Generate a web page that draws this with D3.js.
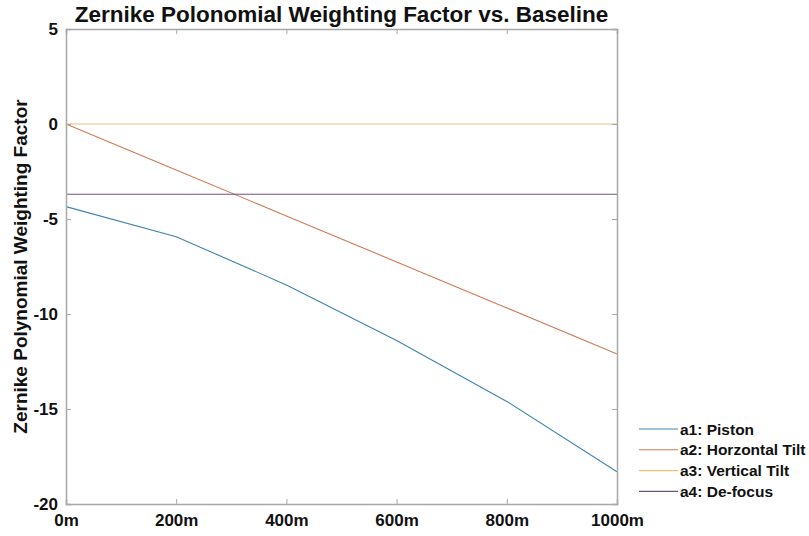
<!DOCTYPE html>
<html>
<head>
<meta charset="utf-8">
<script src="https://cdn.jsdelivr.net/npm/d3@7"></script>
<style>
  body { margin: 0; background: #fff; }
  text { font-family: "Liberation Sans", Arial, sans-serif; font-weight: bold; fill: #111; }
</style>
</head>
<body>
<svg></svg>
<script>
// baseline distance in metres
let baselines = [0, 200, 400, 600, 800, 1000]
let piston = [-4.35, -5.93, -8.47, -11.4, -14.6, -18.3]
let hTilt = [0, -2.42, -4.84, -7.26, -9.68, -12.1]
let vTilt = [0, 0, 0, 0, 0, 0]
let defocus = [-3.7, -3.7, -3.7, -3.7, -3.7, -3.7]

let seriesNames = ['a1: Piston', 'a2: Horzontal Tilt', 'a3: Vertical Tilt', 'a4: De-focus']
let seriesColors = ['#3f83b0', '#d07a55', '#e9c27a', '#6e5283']
let yTicks = [5, 0, -5, -10, -15, -20]
let xTicks = [0, 200, 400, 600, 800, 1000]

let width = 809
let height = 536
let plotLeft = 66, plotRight = 617, plotTop = 29, plotBottom = 504

let svg = d3.select('svg')
svg.attr('width', width).attr('height', height)

let xScale = d3.scaleLinear().domain([0, 1000]).range([plotLeft, plotRight])
let yScale = d3.scaleLinear().domain([-20, 5]).range([plotBottom, plotTop])

// white box
svg.append('rect')
    .attr('x', plotLeft).attr('y', plotTop)
    .attr('width', plotRight - plotLeft).attr('height', plotBottom - plotTop)
    .attr('fill', '#fff')

let allSeries = [piston, hTilt, vTilt, defocus]

let line = d3.line()
    .x((d, i) => xScale(baselines[i]))
    .y(d => yScale(d))

allSeries.forEach((values, k) => {
    svg.append('path')
        .datum(values)
        .attr('d', line)
        .attr('fill', 'none')
        .attr('stroke', seriesColors[k])
        .attr('stroke-width', 1.1)
})

// axes, ticks pointing inward like matlab
let xAxis = d3.axisBottom(xScale).tickValues(xTicks).tickSize(-5).tickPadding(10)
    .tickFormat(d => d + 'm')
let yAxis = d3.axisLeft(yScale).tickValues(yTicks).tickSize(-5).tickPadding(8)
    .tickFormat(d => String(d))

let gx = svg.append('g')
    .attr('transform', 'translate(0,' + plotBottom + ')')
    .call(xAxis)
let gy = svg.append('g')
    .attr('transform', 'translate(' + plotLeft + ',0)')
    .call(yAxis)

let gxTop = svg.append('g')
    .attr('transform', 'translate(0,' + plotTop + ')')
    .call(d3.axisTop(xScale).tickValues(xTicks).tickSize(-5).tickFormat(''))
let gyRight = svg.append('g')
    .attr('transform', 'translate(' + plotRight + ',0)')
    .call(d3.axisRight(yScale).tickValues(yTicks).tickSize(-5).tickFormat(''))

;[gx, gy, gxTop, gyRight].forEach(g => {
    g.select('.domain').attr('stroke', '#a8a8a8').attr('stroke-width', 1.5)
    g.selectAll('.tick line').attr('stroke', '#a8a8a8').attr('stroke-width', 1)
    g.selectAll('.tick text')
        .attr('font-family', '"Liberation Sans", Arial, sans-serif')
        .attr('font-weight', 'bold')
        .attr('font-size', 17)
        .attr('fill', '#111')
})

// title
svg.append('text')
    .attr('x', (plotLeft + plotRight) / 2)
    .attr('y', 22)
    .attr('text-anchor', 'middle')
    .attr('font-size', 22.5)
    .text('Zernike Polonomial Weighting Factor vs. Baseline')

// y label
svg.append('text')
    .attr('transform', 'translate(27,' + (plotTop + plotBottom) / 2 + ') rotate(-90)')
    .attr('text-anchor', 'middle')
    .attr('font-size', 19)
    .text('Zernike Polynomial Weighting Factor')

// legend
let legend = svg.append('g')
seriesNames.forEach((name, k) => {
    let y = 429 + k * 20.8
    legend.append('line')
        .attr('x1', 639).attr('x2', 678)
        .attr('y1', y).attr('y2', y)
        .attr('stroke', seriesColors[k])
        .attr('stroke-width', 1.1)
    legend.append('text')
        .attr('x', 680).attr('y', y + 5.5)
        .attr('font-size', 15.5)
        .text(name)
})
</script>
</body>
</html>
